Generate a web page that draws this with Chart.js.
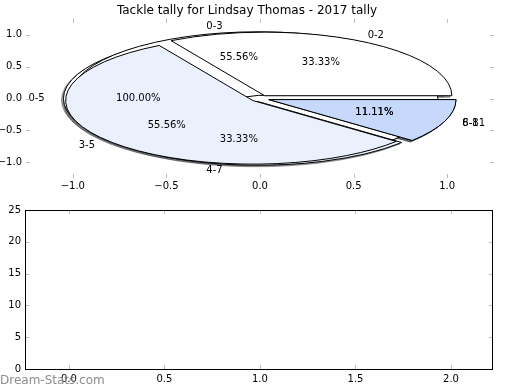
<!DOCTYPE html>
<html>
<head>
<meta charset="utf-8">
<script src="https://cdn.jsdelivr.net/npm/chart.js@4.4.1/dist/chart.umd.min.js"></script>
<style>
  body{ margin:0; background:#fff; }
  #wrap{ position:relative; width:520px; height:390px; overflow:hidden; }
  #pie{ position:absolute; left:0; top:0; }
  #bars{ position:absolute; left:0; top:200px; }
</style>
</head>
<body>
<div id="wrap">
  <canvas id="pie" width="520" height="200"></canvas>
  <canvas id="bars" width="520" height="190"></canvas>
</div>
<script>
// ---- data ----
const TITLE = "Tackle tally for Lindsay Thomas - 2017 tally";

// three pies drawn over each other, in this order
const pie1Labels = ["0-5"];
const pie1Values = [9];
const pie2Labels = ["0-3", "4-7", "6-8"];
const pie2Values = [5, 3, 1];
const pie3Labels = ["0-2", "3-5", "8-11"];
const pie3Values = [3, 5, 1];
const sliceColors = ["#ffffff", "#eaf1fd", "#c6d9fc"];
const EXPLODE = 0.05;

const pieTicks  = [-1.0, -0.5, 0.0, 0.5, 1.0];
const barXTicks = [0.0, 0.5, 1.0, 1.5, 2.0];
const barYTicks = [0, 5, 10, 15, 20, 25];

const WATERMARK = "Dream-Stats.com";

Chart.defaults.font.family = "'DejaVu Sans', sans-serif";
Chart.defaults.font.size = 10;
Chart.defaults.color = "#000";

const D2R = Math.PI/180;
const minus = v => (v<0 ? "\u2212" : "") + Math.abs(v).toFixed(1);

// inward grey tick marks on all four sides
const tickMarks = {
  id: "tickMarks",
  afterDraw(chart){
    const {ctx, chartArea:a, scales:{x, y}} = chart;
    ctx.save();
    ctx.strokeStyle = "#bdbdbd";
    ctx.lineWidth = 1;
    ctx.beginPath();
    x.ticks.forEach(t=>{
      const px = Math.round(x.getPixelForValue(t.value))+0.5;
      ctx.moveTo(px, a.top); ctx.lineTo(px, a.top+4);
      ctx.moveTo(px, a.bottom); ctx.lineTo(px, a.bottom-4);
    });
    y.ticks.forEach(t=>{
      const py = Math.round(y.getPixelForValue(t.value))+0.5;
      ctx.moveTo(a.left, py); ctx.lineTo(a.left+4, py);
      ctx.moveTo(a.right, py); ctx.lineTo(a.right-4, py);
    });
    ctx.stroke();
    ctx.restore();
  }
};

// pie wedges in data coordinates (the axes are not square, so they come out as ellipses)
function buildWedges(){
  const out = [];
  [[pie1Labels, pie1Values], [pie2Labels, pie2Values], [pie3Labels, pie3Values]].forEach(([labels, values])=>{
    const total = values.reduce((s,v)=>s+v, 0);
    let a0 = 0;
    values.forEach((v,i)=>{
      const a1 = a0 + 360*v/total;
      const mid = (a0+a1)/2*D2R;
      out.push({
        a0, a1, mid,
        cx: EXPLODE*Math.cos(mid), cy: EXPLODE*Math.sin(mid),
        color: sliceColors[i], label: labels[i],
        pct: (100*v/total).toFixed(2)+"%"
      });
      a0 = a1;
    });
  });
  return out;
}

function wedgePath(ctx, x, y, w, rx, ry, dx, dy){
  const cx = x.getPixelForValue(w.cx)+dx, cy = y.getPixelForValue(w.cy)+dy;
  ctx.beginPath();
  if(w.a1 - w.a0 >= 359.999){
    ctx.ellipse(cx, cy, rx, ry, 0, 0, 2*Math.PI);
  }else{
    ctx.moveTo(cx, cy);
    ctx.ellipse(cx, cy, rx, ry, 0, -w.a0*D2R, -w.a1*D2R, true);
    ctx.closePath();
  }
}

const pies = {
  id: "pies",
  afterDatasetsDraw(chart){
    const {ctx, scales:{x, y}} = chart;
    const rx = x.getPixelForValue(1) - x.getPixelForValue(0);
    const ry = y.getPixelForValue(0) - y.getPixelForValue(1);
    const wedges = buildWedges();
    ctx.save();
    ctx.lineWidth = 1;
    // shadows first, underneath everything
    wedges.forEach(w=>{
      const c = Chart.helpers.color(w.color).rgb;
      const s = `rgba(${Math.round(c.r*0.3)},${Math.round(c.g*0.3)},${Math.round(c.b*0.3)},0.5)`;
      wedgePath(ctx, x, y, w, rx, ry, -2, 1.5);
      ctx.fillStyle = s; ctx.fill();
      ctx.strokeStyle = s; ctx.stroke();
    });
    wedges.forEach(w=>{
      wedgePath(ctx, x, y, w, rx, ry, 0, 0);
      ctx.fillStyle = w.color; ctx.fill();
      ctx.strokeStyle = "#000"; ctx.stroke();
    });
    // labels and percentages on top
    ctx.fillStyle = "#000";
    ctx.font = "10px 'DejaVu Sans'";
    ctx.textBaseline = "middle";
    wedges.forEach(w=>{
      const c = Math.cos(w.mid), s = Math.sin(w.mid);
      ctx.textAlign = c < 0 ? "right" : "left";
      ctx.fillText(w.label, x.getPixelForValue(w.cx+1.1*c), y.getPixelForValue(w.cy+1.1*s));
      ctx.textAlign = "center";
      ctx.fillText(w.pct, x.getPixelForValue(w.cx+0.6*c), y.getPixelForValue(w.cy+0.6*s));
    });
    ctx.restore();
  }
};

new Chart(document.getElementById("pie"), {
  type: "scatter",
  data: { datasets: [] },
  options: {
    responsive: false, animation: false,
    layout: { padding: { left: 0, right: 26, top: 0, bottom: 0 } },
    plugins: {
      legend: { display: false }, tooltip: { enabled: false },
      title: { display: true, text: TITLE, color: "#000",
               font: { size: 12, weight: "normal" }, padding: { top: 4, bottom: 0.6 } }
    },
    scales: {
      x: {
        type: "linear", min: -1.25, max: 1.25,
        grid: { display: false, drawTicks: false }, border: { display: false },
        ticks: { padding: 2, maxRotation: 0, callback: v => minus(v) },
        afterBuildTicks: s => { s.ticks = pieTicks.map(v => ({ value: v })); },
        afterFit: s => { s.height = 22; }
      },
      y: {
        type: "linear", min: -1.25, max: 1.25,
        grid: { display: false, drawTicks: false }, border: { display: false },
        ticks: { padding: 4, callback: v => minus(v) },
        afterBuildTicks: s => { s.ticks = pieTicks.map(v => ({ value: v })); },
        afterFit: s => { s.width = 26; }
      }
    }
  },
  plugins: [tickMarks, pies]
});

// lower panel: empty axes with a frame and the watermark
const frame = {
  id: "frame",
  afterDraw(chart){
    const {ctx, chartArea:a} = chart;
    ctx.save();
    ctx.strokeStyle = "#000"; ctx.lineWidth = 1;
    ctx.strokeRect(a.left+0.5, a.top+0.5, a.right-a.left-1, a.bottom-a.top);
    ctx.fillStyle = "#8c8c8c";
    ctx.font = "12px 'DejaVu Sans'";
    ctx.textAlign = "left"; ctx.textBaseline = "alphabetic";
    ctx.fillText(WATERMARK, 0, 184);
    ctx.restore();
  }
};

new Chart(document.getElementById("bars"), {
  type: "scatter",
  data: { datasets: [] },
  options: {
    responsive: false, animation: false,
    layout: { padding: { left: 0, right: 27, top: 10, bottom: 0 } },
    plugins: { legend: { display: false }, tooltip: { enabled: false } },
    scales: {
      x: {
        type: "linear", min: -0.23, max: 2.22,
        grid: { display: false, drawTicks: false }, border: { display: false },
        ticks: { padding: 4, maxRotation: 0, callback: v => v.toFixed(1) },
        afterBuildTicks: s => { s.ticks = barXTicks.map(v => ({ value: v })); },
        afterFit: s => { s.height = 21; }
      },
      y: {
        type: "linear", min: 0, max: 25,
        grid: { display: false, drawTicks: false }, border: { display: false },
        ticks: { padding: 4, callback: v => String(v) },
        afterBuildTicks: s => { s.ticks = barYTicks.map(v => ({ value: v })); },
        afterFit: s => { s.width = 25; }
      }
    }
  },
  plugins: [tickMarks, frame]
});
</script>
</body>
</html>
